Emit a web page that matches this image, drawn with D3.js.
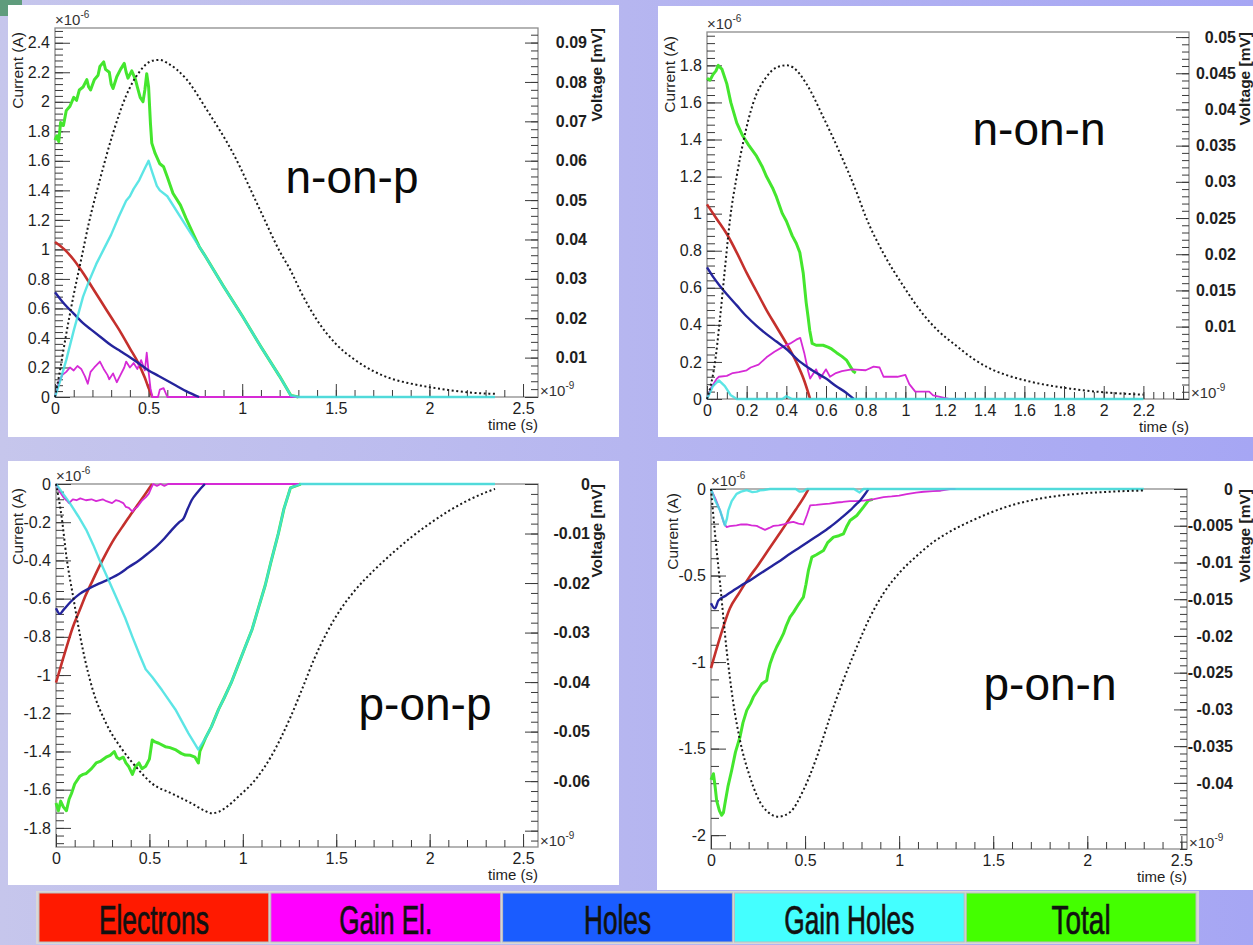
<!DOCTYPE html>
<html>
<head>
<meta charset="utf-8">
<script src="https://cdn.jsdelivr.net/npm/d3@7"></script>
<style>
  html, body { margin: 0; padding: 0; background: #b6b6ee; }
  svg { display: block; }
</style>
</head>
<body>
<svg id="fig" width="1253" height="945"></svg>
<script>
// ---------------------------------------------------------------
// Simulated induced signals: time in ns (x10^-9 s), current in uA
// (x10^-6 A), amplifier output voltage in mV.
// ---------------------------------------------------------------

// n-on-p
const nopElectrons = [[0,1.05],[0.05,1.0],[0.1,0.93],[0.15,0.84],[0.2,0.74],[0.25,0.64],[0.3,0.54],[0.35,0.44],[0.4,0.33],[0.445,0.23],[0.48,0.13],[0.5,0.06],[0.52,0]];
const nopGainEl = [[0,0],[0.02,0.1],[0.04,0.15],[0.06,0.17],[0.08,0.2],[0.1,0.18],[0.12,0.21],[0.14,0.19],[0.16,0.14],[0.175,0.09],[0.19,0.17],[0.21,0.2],[0.24,0.24],[0.26,0.19],[0.28,0.15],[0.29,0.12],[0.31,0.16],[0.33,0.1],[0.35,0.15],[0.37,0.2],[0.38,0.24],[0.4,0.2],[0.42,0.23],[0.44,0.19],[0.46,0.25],[0.48,0.18],[0.49,0.3],[0.5,0.17],[0.51,0.06],[0.52,0],[0.55,0],[0.56,0.05],[0.58,0.06],[0.6,0],[1.3,0]];
const nopHoles = [[0,0.71],[0.05,0.63],[0.1,0.565],[0.15,0.5],[0.2,0.45],[0.25,0.4],[0.3,0.35],[0.35,0.31],[0.4,0.27],[0.45,0.225],[0.5,0.18],[0.55,0.145],[0.6,0.11],[0.65,0.075],[0.7,0.04],[0.77,0]];
const nopGainHoles = [[0,0],[0.03,0.12],[0.06,0.25],[0.1,0.45],[0.15,0.68],[0.18,0.78],[0.22,0.9],[0.26,1.0],[0.3,1.1],[0.34,1.22],[0.38,1.33],[0.4,1.36],[0.42,1.41],[0.45,1.47],[0.48,1.55],[0.5,1.6],[0.52,1.52],[0.544,1.43],[0.56,1.4],[0.6,1.36],[0.7,1.16],[0.8,0.96],[0.9,0.75],[1.0,0.55],[1.1,0.34],[1.2,0.14],[1.26,0.01],[1.3,0],[2.35,0]];
const nopTotal = [[0,1.74],[0.01,1.77],[0.02,1.73],[0.03,1.86],[0.045,1.84],[0.06,1.94],[0.08,1.97],[0.1,2.03],[0.115,2.01],[0.13,2.08],[0.15,2.1],[0.17,2.15],[0.18,2.1],[0.19,2.08],[0.21,2.15],[0.23,2.18],[0.24,2.24],[0.26,2.27],[0.27,2.22],[0.29,2.2],[0.3,2.12],[0.31,2.09],[0.33,2.17],[0.35,2.22],[0.37,2.26],[0.38,2.2],[0.39,2.16],[0.41,2.21],[0.43,2.15],[0.44,2.1],[0.455,2.03],[0.47,2.0],[0.48,2.08],[0.49,2.19],[0.5,2.1],[0.51,1.85],[0.517,1.72],[0.535,1.65],[0.56,1.58],[0.58,1.56],[0.6,1.49],[0.63,1.38],[0.67,1.3],[0.7,1.21],[0.74,1.1],[0.77,1.02],[0.8,0.96],[0.9,0.75],[1.0,0.55],[1.1,0.34],[1.2,0.14],[1.26,0.01],[1.3,0]];
const nopVoltage = [[0,0],[0.02,0.005],[0.06,0.016],[0.1,0.026],[0.14,0.035],[0.18,0.044],[0.24,0.0552],[0.31,0.067],[0.38,0.0765],[0.45,0.0825],[0.52,0.0854],[0.56,0.0856],[0.6,0.0848],[0.7,0.0808],[0.81,0.073],[0.95,0.062],[1.1,0.047],[1.2,0.037],[1.26,0.032],[1.31,0.027],[1.4,0.0195],[1.5,0.0135],[1.6,0.0095],[1.7,0.0066],[1.8,0.0046],[1.9,0.0034],[2.0,0.0025],[2.1,0.0018],[2.2,0.0012],[2.35,0.0008]];

// n-on-n
const nonElectrons = [[0,1.05],[0.05,0.97],[0.1,0.89],[0.15,0.79],[0.2,0.68],[0.25,0.58],[0.3,0.48],[0.35,0.39],[0.4,0.3],[0.45,0.2],[0.49,0.1],[0.52,0]];
const nonGainEl = [[0,0],[0.02,0.06],[0.05,0.11],[0.06,0.12],[0.1,0.125],[0.13,0.14],[0.16,0.145],[0.2,0.155],[0.22,0.17],[0.26,0.185],[0.3,0.225],[0.34,0.255],[0.38,0.28],[0.42,0.3],[0.45,0.32],[0.47,0.33],[0.49,0.25],[0.51,0.15],[0.52,0.11],[0.55,0.16],[0.57,0.11],[0.6,0.16],[0.62,0.12],[0.65,0.14],[0.68,0.15],[0.73,0.16],[0.8,0.155],[0.84,0.175],[0.87,0.17],[0.89,0.12],[0.96,0.12],[1.0,0.13],[1.02,0.08],[1.05,0.04],[1.12,0.04],[1.14,0.02],[1.18,0.01],[1.22,0],[1.3,0]];
const nonHoles = [[0,0.71],[0.03,0.66],[0.065,0.61],[0.1,0.565],[0.15,0.505],[0.2,0.445],[0.25,0.395],[0.3,0.35],[0.35,0.31],[0.4,0.27],[0.47,0.2],[0.53,0.155],[0.6,0.11],[0.65,0.07],[0.7,0.035],[0.74,0]];
const nonGainHoles = [[0,0],[0.03,0.07],[0.06,0.1],[0.09,0.07],[0.12,0.02],[0.15,0],[0.38,0],[0.4,0.015],[0.43,0],[2.2,0]];
const nonTotal = [[0,1.73],[0.015,1.72],[0.03,1.75],[0.045,1.77],[0.057,1.8],[0.065,1.79],[0.075,1.78],[0.1,1.7],[0.12,1.6],[0.15,1.49],[0.18,1.42],[0.21,1.37],[0.25,1.31],[0.28,1.25],[0.3,1.2],[0.33,1.14],[0.35,1.09],[0.38,1.0],[0.4,0.96],[0.43,0.88],[0.45,0.84],[0.468,0.79],[0.485,0.68],[0.5,0.52],[0.51,0.44],[0.518,0.37],[0.53,0.3],[0.55,0.29],[0.585,0.29],[0.61,0.28],[0.628,0.27],[0.653,0.25],[0.68,0.23],[0.703,0.21],[0.72,0.18],[0.737,0.15],[0.75,0.14]];
const nonVoltage = [[0,0],[0.02,0.002],[0.04,0.005],[0.065,0.011],[0.09,0.0179],[0.116,0.0248],[0.15,0.0308],[0.185,0.0358],[0.233,0.0409],[0.3,0.0445],[0.35,0.0458],[0.4,0.0461],[0.434,0.0458],[0.5,0.0436],[0.585,0.039],[0.67,0.034],[0.755,0.0285],[0.8,0.0252],[0.888,0.0202],[0.99,0.0156],[1.09,0.0117],[1.17,0.0093],[1.25,0.0075],[1.34,0.0056],[1.42,0.0043],[1.51,0.0033],[1.6,0.0026],[1.68,0.0021],[1.84,0.0014],[2.01,0.0009],[2.2,0.0006]];

// p-on-p
const popElectrons = [[0,-1.04],[0.03,-0.94],[0.056,-0.855],[0.09,-0.75],[0.127,-0.66],[0.16,-0.58],[0.197,-0.503],[0.23,-0.435],[0.268,-0.363],[0.31,-0.29],[0.356,-0.223],[0.4,-0.16],[0.444,-0.1],[0.48,-0.05],[0.515,0]];
const popGainEl = [[0,0],[0.02,-0.04],[0.04,-0.07],[0.056,-0.085],[0.07,-0.1],[0.09,-0.08],[0.11,-0.085],[0.13,-0.075],[0.16,-0.085],[0.19,-0.08],[0.215,-0.09],[0.25,-0.08],[0.27,-0.09],[0.3,-0.1],[0.32,-0.085],[0.34,-0.09],[0.36,-0.1],[0.374,-0.12],[0.39,-0.125],[0.409,-0.145],[0.42,-0.13],[0.435,-0.12],[0.45,-0.1],[0.462,-0.085],[0.48,-0.07],[0.497,-0.05],[0.51,-0.02],[0.52,0],[0.54,-0.01],[0.56,0],[0.58,-0.01],[0.6,0],[1.3,0]];
const popHoles = [[0,-0.65],[0.021,-0.68],[0.039,-0.66],[0.08,-0.615],[0.127,-0.575],[0.18,-0.545],[0.233,-0.52],[0.29,-0.495],[0.339,-0.47],[0.39,-0.435],[0.444,-0.4],[0.49,-0.365],[0.533,-0.33],[0.58,-0.285],[0.62,-0.24],[0.66,-0.2],[0.683,-0.18],[0.705,-0.13],[0.726,-0.085],[0.76,-0.04],[0.797,0]];
const popGainHoles = [[0,0],[0.03,-0.04],[0.074,-0.1],[0.12,-0.17],[0.162,-0.24],[0.2,-0.32],[0.233,-0.398],[0.28,-0.5],[0.321,-0.59],[0.37,-0.7],[0.409,-0.8],[0.45,-0.9],[0.48,-0.97],[0.515,-1.01],[0.568,-1.08],[0.639,-1.18],[0.709,-1.305],[0.762,-1.39],[0.8,-1.33],[0.832,-1.27],[0.87,-1.18],[0.9,-1.12],[0.938,-1.04],[0.97,-0.96],[1.01,-0.86],[1.05,-0.76],[1.08,-0.66],[1.12,-0.53],[1.15,-0.41],[1.19,-0.26],[1.22,-0.13],[1.255,-0.02],[1.31,0],[2.35,0]];
const popTotal = [[0,-1.67],[0.013,-1.71],[0.025,-1.66],[0.039,-1.69],[0.056,-1.71],[0.07,-1.65],[0.083,-1.62],[0.1,-1.57],[0.127,-1.53],[0.145,-1.52],[0.162,-1.515],[0.19,-1.49],[0.215,-1.46],[0.24,-1.45],[0.268,-1.43],[0.29,-1.42],[0.312,-1.4],[0.325,-1.43],[0.339,-1.44],[0.36,-1.43],[0.374,-1.46],[0.39,-1.48],[0.409,-1.52],[0.425,-1.48],[0.444,-1.46],[0.46,-1.49],[0.48,-1.477],[0.5,-1.44],[0.515,-1.34],[0.53,-1.35],[0.55,-1.357],[0.585,-1.375],[0.61,-1.38],[0.638,-1.39],[0.67,-1.41],[0.692,-1.419],[0.72,-1.42],[0.744,-1.43],[0.762,-1.46],[0.77,-1.4],[0.8,-1.33],[0.832,-1.27],[0.87,-1.18],[0.9,-1.12],[0.938,-1.04],[0.97,-0.96],[1.01,-0.86],[1.05,-0.76],[1.08,-0.66],[1.12,-0.53],[1.15,-0.41],[1.19,-0.26],[1.22,-0.13],[1.255,-0.02],[1.31,0]];
const popVoltage = [[0,0],[0.03,-0.0066],[0.056,-0.0147],[0.092,-0.0228],[0.144,-0.0335],[0.197,-0.0416],[0.268,-0.0483],[0.356,-0.0537],[0.444,-0.0578],[0.515,-0.0605],[0.62,-0.0625],[0.726,-0.0645],[0.797,-0.066],[0.832,-0.0665],[0.87,-0.0662],[0.903,-0.0655],[0.974,-0.0632],[1.08,-0.0591],[1.15,-0.0551],[1.256,-0.047],[1.327,-0.0405],[1.38,-0.0355],[1.45,-0.03],[1.52,-0.0255],[1.6,-0.0215],[1.7,-0.0175],[1.8,-0.014],[1.9,-0.0108],[2.0,-0.008],[2.1,-0.0055],[2.2,-0.0034],[2.3,-0.0017],[2.35,-0.001]];

// p-on-n
const ponElectrons = [[0,-1.035],[0.05,-0.85],[0.1,-0.69],[0.15,-0.6],[0.2,-0.515],[0.25,-0.44],[0.3,-0.36],[0.35,-0.28],[0.4,-0.2],[0.45,-0.12],[0.5,-0.035],[0.518,0]];
const ponGainEl = [[0,0],[0.025,-0.06],[0.048,-0.124],[0.07,-0.2],[0.083,-0.22],[0.1,-0.215],[0.136,-0.21],[0.16,-0.205],[0.19,-0.205],[0.215,-0.21],[0.243,-0.213],[0.265,-0.225],[0.287,-0.236],[0.31,-0.225],[0.332,-0.213],[0.36,-0.21],[0.385,-0.205],[0.41,-0.195],[0.438,-0.19],[0.465,-0.2],[0.491,-0.205],[0.51,-0.15],[0.527,-0.095],[0.56,-0.092],[0.598,-0.087],[0.63,-0.085],[0.669,-0.078],[0.7,-0.075],[0.739,-0.07],[0.77,-0.07],[0.81,-0.067],[0.86,-0.06],[0.917,-0.047],[0.96,-0.043],[1.0,-0.038],[1.04,-0.03],[1.09,-0.021],[1.13,-0.016],[1.18,-0.012],[1.22,-0.01],[1.27,0],[1.3,0]];
const ponHoles = [[0,-0.66],[0.021,-0.69],[0.039,-0.645],[0.08,-0.615],[0.119,-0.586],[0.16,-0.557],[0.207,-0.528],[0.26,-0.49],[0.314,-0.452],[0.37,-0.413],[0.42,-0.374],[0.475,-0.335],[0.527,-0.297],[0.58,-0.26],[0.633,-0.22],[0.69,-0.17],[0.739,-0.124],[0.77,-0.09],[0.793,-0.066],[0.815,-0.035],[0.837,0]];
const ponGainHoles = [[0,0],[0.02,-0.06],[0.048,-0.124],[0.074,-0.21],[0.085,-0.17],[0.092,-0.124],[0.11,-0.07],[0.136,-0.028],[0.16,-0.015],[0.19,-0.006],[0.22,-0.018],[0.243,-0.015],[0.26,-0.008],[0.28,-0.006],[0.314,0],[0.45,0],[0.47,-0.015],[0.49,-0.013],[0.51,0],[0.76,0],[0.79,-0.02],[0.81,0],[2.3,0]];
const ponTotal = [[0,-1.68],[0.013,-1.645],[0.022,-1.72],[0.03,-1.8],[0.045,-1.86],[0.057,-1.885],[0.066,-1.87],[0.074,-1.818],[0.09,-1.72],[0.11,-1.625],[0.13,-1.52],[0.154,-1.433],[0.17,-1.35],[0.19,-1.279],[0.21,-1.24],[0.225,-1.202],[0.25,-1.16],[0.27,-1.125],[0.296,-1.106],[0.305,-1.05],[0.314,-1.01],[0.33,-0.96],[0.349,-0.913],[0.365,-0.88],[0.385,-0.836],[0.4,-0.79],[0.42,-0.74],[0.44,-0.71],[0.456,-0.682],[0.475,-0.65],[0.491,-0.625],[0.505,-0.55],[0.518,-0.47],[0.536,-0.394],[0.56,-0.38],[0.598,-0.355],[0.62,-0.31],[0.651,-0.278],[0.68,-0.27],[0.704,-0.259],[0.72,-0.22],[0.739,-0.182],[0.775,-0.153],[0.81,-0.105],[0.837,-0.066],[0.86,-0.06]];
const ponVoltage = [[0,0],[0.021,-0.006],[0.048,-0.0128],[0.083,-0.0219],[0.119,-0.0292],[0.154,-0.0342],[0.207,-0.0392],[0.278,-0.0433],[0.358,-0.0446],[0.42,-0.044],[0.491,-0.041],[0.562,-0.0365],[0.633,-0.031],[0.704,-0.026],[0.775,-0.0215],[0.846,-0.0174],[0.917,-0.0142],[1.005,-0.0113],[1.094,-0.0091],[1.183,-0.0072],[1.27,-0.0058],[1.396,-0.0042],[1.574,-0.0024],[1.75,-0.0013],[1.93,-0.0007],[2.1,-0.0004],[2.3,-0.0002]];

// Axis tick values (labelled majors)
const timeTicksA = [0, 0.5, 1, 1.5, 2, 2.5];
const timeTicksB = [0, 0.2, 0.4, 0.6, 0.8, 1, 1.2, 1.4, 1.6, 1.8, 2, 2.2];
const nopCurrentTicks = [0, 0.2, 0.4, 0.6, 0.8, 1, 1.2, 1.4, 1.6, 1.8, 2, 2.2, 2.4];
const nonCurrentTicks = [0, 0.2, 0.4, 0.6, 0.8, 1, 1.2, 1.4, 1.6, 1.8];
const popCurrentTicks = [0, -0.2, -0.4, -0.6, -0.8, -1, -1.2, -1.4, -1.6, -1.8];
const ponCurrentTicks = [0, -0.5, -1, -1.5, -2];
const nopVoltageTicks = [0.01, 0.02, 0.03, 0.04, 0.05, 0.06, 0.07, 0.08, 0.09];
const nonVoltageTicks = [0.01, 0.015, 0.02, 0.025, 0.03, 0.035, 0.04, 0.045, 0.05];
const popVoltageTicks = [0, -0.01, -0.02, -0.03, -0.04, -0.05, -0.06];
const ponVoltageTicks = [0, -0.005, -0.01, -0.015, -0.02, -0.025, -0.03, -0.035, -0.04];

const panelTitles = ["n-on-p", "n-on-n", "p-on-p", "p-on-n"];
const seriesNames = ["Electrons", "Gain El.", "Holes", "Gain Holes", "Total"];
const lineColors = ["#c4302c", "#d62ad6", "#24249c", "#3fe0e0", "#44e62e"];
const legendColors = ["#ff1a00", "#ff00ff", "#1a5cff", "#44ffff", "#44ff00"];

// ---------------------------------------------------------------
const FONT = "'Liberation Sans', Arial, Helvetica, sans-serif";
const W = 1253, H = 945;
const svg = d3.select("#fig");
const defs = svg.append("defs");

const bg = defs.append("linearGradient").attr("id", "bgGrad")
  .attr("x1", 0).attr("x2", 1).attr("y1", 0).attr("y2", 0);
bg.append("stop").attr("offset", "0%").attr("stop-color", "#c6c6ec");
bg.append("stop").attr("offset", "100%").attr("stop-color", "#a6a6f4");
svg.append("rect").attr("width", W).attr("height", H).attr("fill", "url(#bgGrad)");
svg.append("rect").attr("x", 0).attr("y", 0).attr("width", 22).attr("height", 16).attr("fill", "#5f9c7c");

const fmt = v => String(+v.toFixed(4));
const steps = (a, b, s) => d3.range(Math.round((b - a) / s) + 1).map(i => +(a + i * s).toFixed(5));

const panels = [
  { title: panelTitles[0], box: [8, 5, 619, 437], left: 55, right: 538, top: 28, bottom: 397,
    xDom: [0, 2.58], yDom: [0, 2.5], vDom: [0, 0.0937],
    xTicks: timeTicksA, xMinor: steps(0, 2.5, 0.1),
    yTicks: nopCurrentTicks, yMinor: steps(0, 2.48, 0.04),
    vTicks: nopVoltageTicks, vMajor: steps(0, 0.09, 0.01), vMinor: steps(0, 0.092, 0.002),
    vLabelX: 49, vTitleX: 64, curTitleX: 23,
    titlePos: [352, 193],
    series: [nopTotal, nopElectrons, nopGainEl, nopHoles, nopGainHoles], volt: nopVoltage },
  { title: panelTitles[1], box: [658, 6, 1253, 437], left: 707, right: 1189, top: 32, bottom: 399,
    xDom: [0, 2.43], yDom: [0, 1.98], vDom: [0, 0.0507],
    xTicks: timeTicksB.concat([2.4]), xLabelMax: 2.2, xMinor: steps(0, 2.4, 0.05),
    yTicks: nonCurrentTicks, yMinor: steps(0, 1.96, 0.04),
    vTicks: nonVoltageTicks, vMajor: steps(0, 0.05, 0.005), vMinor: steps(0, 0.05, 0.001),
    vLabelX: 47, vTitleX: 61, curTitleX: 675,
    titlePos: [1039, 145],
    series: [nonTotal, nonElectrons, nonGainEl, nonHoles, nonGainHoles], volt: nonVoltage },
  { title: panelTitles[2], box: [8, 461, 619, 885], left: 56, right: 538, top: 484, bottom: 847,
    xDom: [0, 2.58], yDom: [-1.9, 0], vDom: [-0.0733, 0],
    xTicks: timeTicksA, xMinor: steps(0, 2.5, 0.1),
    yTicks: popCurrentTicks, yMinor: steps(-1.88, 0, 0.04),
    vTicks: popVoltageTicks, vMajor: steps(-0.07, 0, 0.01), vMinor: steps(-0.072, 0, 0.002),
    vLabelX: 52, vTitleX: 64, curTitleX: 23,
    titlePos: [425, 720],
    series: [popTotal, popElectrons, popGainEl, popHoles, popGainHoles], volt: popVoltage },
  { title: panelTitles[3], box: [657, 461, 1253, 890], left: 711, right: 1187, top: 489, bottom: 849,
    xDom: [0, 2.53], yDom: [-2.08, 0], vDom: [-0.049, 0],
    xTicks: timeTicksA, xMinor: steps(0, 2.5, 0.1),
    yTicks: ponCurrentTicks, yMinor: steps(-2, 0, 0.1),
    vTicks: ponVoltageTicks, vMajor: steps(-0.045, 0, 0.005), vMinor: steps(-0.049, 0, 0.001),
    vLabelX: 46, vTitleX: 63, curTitleX: 678,
    titlePos: [1050, 700],
    series: [ponTotal, ponElectrons, ponGainEl, ponHoles, ponGainHoles], volt: ponVoltage }
];

// series drawing order inside each panel: Total first, then the carriers
const orderIdx = [4, 0, 1, 2, 3];
const widths = [2.6, 1.8, 2.4, 2.4, 3.0];

function styleAxis(g) {
  g.select(".domain").remove();
  g.selectAll("line").attr("stroke", "#3a3a3a").attr("stroke-width", 1);
  g.attr("font-family", null).attr("font-size", null);
  g.selectAll("text").attr("font-family", FONT).attr("fill", "#1e1e1e");
  return g;
}

panels.forEach((p, pi) => {
  const gp = svg.append("g");
  gp.append("rect").attr("x", p.box[0]).attr("y", p.box[1])
    .attr("width", p.box[2] - p.box[0]).attr("height", p.box[3] - p.box[1]).attr("fill", "#ffffff");

  const x = d3.scaleLinear().domain(p.xDom).range([p.left, p.right]);
  const y = d3.scaleLinear().domain(p.yDom).range([p.bottom, p.top]);
  const yv = d3.scaleLinear().domain(p.vDom).range([p.bottom, p.top]);

  // frame
  gp.append("rect").attr("x", p.left).attr("y", p.top)
    .attr("width", p.right - p.left).attr("height", p.bottom - p.top)
    .attr("fill", "none").attr("stroke", "#8c8c8c").attr("stroke-width", 1.3);

  // left (current) axis
  styleAxis(gp.append("g").attr("transform", `translate(${p.left},0)`)
    .call(d3.axisLeft(y).tickValues(p.yMinor).tickSize(-8).tickSizeOuter(0).tickFormat("")));
  styleAxis(gp.append("g").attr("transform", `translate(${p.left},0)`)
    .call(d3.axisLeft(y).tickValues(p.yTicks).tickSize(-15).tickSizeOuter(0).tickPadding(5).tickFormat(fmt)))
    .selectAll("text").attr("font-size", 16);

  // bottom (time) axis
  const xLabelMax = p.xLabelMax !== undefined ? p.xLabelMax : Infinity;
  styleAxis(gp.append("g").attr("transform", `translate(0,${p.bottom})`)
    .call(d3.axisBottom(x).tickValues(p.xMinor).tickSize(-7).tickSizeOuter(0).tickFormat("")));
  styleAxis(gp.append("g").attr("transform", `translate(0,${p.bottom})`)
    .call(d3.axisBottom(x).tickValues(p.xTicks).tickSize(-13).tickSizeOuter(0).tickPadding(6)
      .tickFormat(d => d <= xLabelMax + 1e-9 ? fmt(d) : "")))
    .selectAll("text").attr("font-size", 16);

  // right (voltage) axis
  const vSet = new Set(p.vTicks.map(fmt));
  styleAxis(gp.append("g").attr("transform", `translate(${p.right},0)`)
    .call(d3.axisRight(yv).tickValues(p.vMinor).tickSize(-7).tickSizeOuter(0).tickFormat("")));
  styleAxis(gp.append("g").attr("transform", `translate(${p.right},0)`)
    .call(d3.axisRight(yv).tickValues(p.vMajor).tickSize(-13).tickSizeOuter(0)
      .tickFormat(d => vSet.has(fmt(d)) ? fmt(d) : "")))
    .selectAll("text").attr("font-size", 16).attr("font-weight", "bold")
    .attr("text-anchor", "end").attr("x", p.vLabelX);

  // axis titles and exponent markers
  gp.append("text").attr("transform", `translate(${p.curTitleX},${p.top + 4}) rotate(-90)`)
    .attr("text-anchor", "end").attr("font-family", FONT).attr("font-size", 15.5).attr("fill", "#1e1e1e")
    .text("Current (A)");
  gp.append("text").attr("transform", `translate(${p.right + p.vTitleX},${p.top}) rotate(-90)`)
    .attr("text-anchor", "end").attr("font-family", FONT).attr("font-size", 15.5)
    .attr("font-weight", "bold").attr("fill", "#1e1e1e")
    .text("Voltage [mV]");
  gp.append("text").attr("x", p.right).attr("y", p.bottom + 33)
    .attr("text-anchor", "end").attr("font-family", FONT).attr("font-size", 15).attr("fill", "#1e1e1e")
    .text("time (s)");

  const e6 = gp.append("text").attr("x", p.left).attr("y", p.top - 3)
    .attr("font-family", FONT).attr("font-size", 15).attr("fill", "#333");
  e6.append("tspan").text("\u00d710");
  e6.append("tspan").attr("font-size", 10).attr("dy", -7).text("-6");

  const e9 = gp.append("text").attr("x", p.right + 2).attr("y", p.bottom - 1)
    .attr("font-family", FONT).attr("font-size", 15).attr("fill", "#333");
  e9.append("tspan").text("\u00d710");
  e9.append("tspan").attr("font-size", 10).attr("dy", -7).text("-9");

  // curves
  const clipId = `plotClip${pi}`;
  defs.append("clipPath").attr("id", clipId).append("rect")
    .attr("x", p.left - 2).attr("y", p.top - 2)
    .attr("width", p.right - p.left + 4).attr("height", p.bottom - p.top + 4);
  const gc = gp.append("g").attr("clip-path", `url(#${clipId})`);

  const noisy = d3.line().x(d => x(d[0])).y(d => y(d[1]));
  const smooth = d3.line().curve(d3.curveMonotoneX).x(d => x(d[0])).y(d => y(d[1]));
  const vline = d3.line().curve(d3.curveMonotoneX).x(d => x(d[0])).y(d => yv(d[1]));

  // p.series holds [Total, Electrons, GainEl, Holes, GainHoles]
  p.series.forEach((data, k) => {
    const si = orderIdx[k];
    const isSmooth = si === 0 || si === 2;
    gc.append("path").datum(data)
      .attr("d", isSmooth ? smooth : noisy)
      .attr("fill", "none")
      .attr("stroke", lineColors[si])
      .attr("stroke-width", widths[si])
      .attr("stroke-opacity", si === 3 ? 0.85 : 1)
      .attr("stroke-linejoin", "round");
  });

  gc.append("path").datum(p.volt)
    .attr("d", vline)
    .attr("fill", "none")
    .attr("stroke", "#1a1a1a")
    .attr("stroke-width", 2)
    .attr("stroke-dasharray", "2,2.6");

  // panel title
  gp.append("text").attr("x", p.titlePos[0]).attr("y", p.titlePos[1])
    .attr("text-anchor", "middle").attr("font-family", FONT).attr("font-size", 46).attr("fill", "#0a0a0a")
    .text(p.title);
});

// legend strip
const legX = d3.scaleBand().domain(seriesNames).range([38, 1197]).paddingInner(0);
const legTop = 893, legH = 50;
const textWidths = [110, 93, 67, 130, 59];
const lg = svg.append("g");
lg.append("rect").attr("x", 36).attr("y", legTop - 2).attr("width", 1197 - 34).attr("height", legH + 3)
  .attr("fill", "#d8d8d8");
seriesNames.forEach((name, i) => {
  lg.append("rect").attr("x", legX(name) + 1).attr("y", legTop)
    .attr("width", legX.bandwidth() - 2).attr("height", legH - 1)
    .attr("fill", legendColors[i]).attr("stroke", "#bdbdbd").attr("stroke-width", 1);
  lg.append("text").attr("x", legX(name) + legX.bandwidth() / 2).attr("y", legTop + 41)
    .attr("text-anchor", "middle")
    .attr("font-family", "'Liberation Sans Narrow', 'Liberation Sans', Arial, sans-serif")
    .attr("font-size", 41).attr("fill", "#111")
    .attr("stroke", "#111").attr("stroke-width", 0.7)
    .attr("textLength", textWidths[i]).attr("lengthAdjust", "spacingAndGlyphs")
    .text(name);
});
</script>
</body>
</html>
